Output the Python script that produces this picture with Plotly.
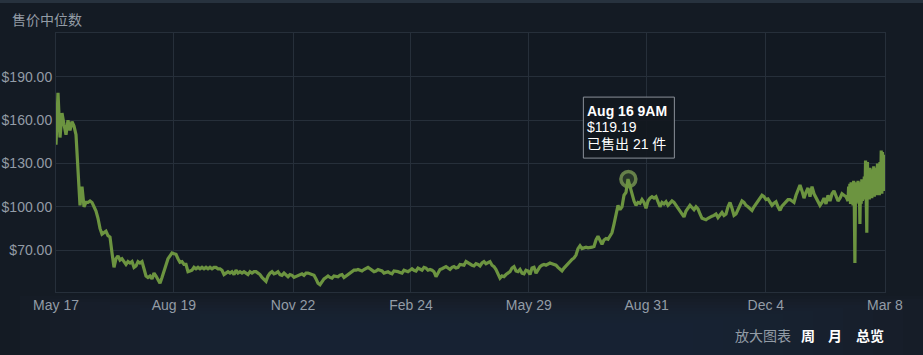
import pandas as pd
import plotly.graph_objects as go

# ---------------- data ----------------
chart_title = "售价中位数"
tick_dates = ["2022-05-17", "2022-08-19", "2022-11-22", "2023-02-24",
              "2023-05-29", "2023-08-31", "2023-12-04", "2024-03-08"]
tick_labels = ["May 17", "Aug 19", "Nov 22", "Feb 24",
               "May 29", "Aug 31", "Dec 4", "Mar 8"]
price_ticks = [70, 100, 130, 160, 190]
price_tick_labels = ["$70.00", "$100.00", "$130.00", "$160.00", "$190.00"]
x_start, x_end = "2022-05-17", "2024-03-08"

daily_start = "2022-05-17"
daily_end = "2024-02-07 12:00"
prices_2022_summer = [
    143, 179, 148, 165, 157, 150, 160, 153, 159, 156,
    150, 124, 101, 114, 100, 103, 103, 104, 103, 100,
    97, 92, 85, 81, 82, 83, 80, 79, 68, 58,
    64, 66, 63, 64, 62, 60, 62, 61, 62, 58,
    59, 62, 61, 62, 57, 52, 51, 52, 50, 54,
    52, 49, 47, 51, 56, 60, 64, 66, 68, 67.5,
    67, 64, 61.5, 62, 60, 60, 55, 55.5, 56, 58,
    57, 58, 57, 58, 57, 58, 57, 58, 57, 58,
    58, 57, 57, 56, 53, 54, 55, 54, 55, 53,
    56, 54, 55, 54, 55, 54, 53, 55, 54, 55,
    55, 54, 53,
]
prices_2022_winter = [
    51, 49.5, 48.3, 52, 54, 55, 53.5, 54, 55, 53,
    52.5, 54, 53, 51.5, 53, 52.5, 51, 51.5, 52, 53,
    53.5, 52.5, 54, 54, 53.5, 53, 52.5, 50, 47, 46,
    48, 50, 51, 52, 51, 50.5, 52, 52, 51.5, 52.5,
    53, 51, 52, 53, 54.5, 55.5, 56, 56, 56.5, 56,
    55.5, 56.5, 57, 58, 57, 56, 55, 55.5, 56.5, 56,
    55.5, 54, 54.5, 55, 54, 53.5, 55.5, 55.5, 55, 54.5,
    54, 56, 55.5, 55, 56, 57, 56, 55.5, 57.5, 57,
    56, 58, 57.5, 56, 56.5, 56, 55, 51.5, 54, 56.5,
    57, 58, 58.5, 57.5, 56.5, 58, 58.5, 57.5, 58, 60,
    59.5, 59.5, 62, 61, 60.5, 59.5,
]
prices_2023_summer = [
    59, 60.5, 60, 59, 61, 62, 60.5, 61, 62, 59.5,
    58.5, 56.5, 54, 50.5, 52, 51.5, 53, 54, 55, 57.5,
    58.5, 55.5, 55, 56.5, 54, 53.5, 56, 55.5, 53, 57.5,
    58, 54, 56.5, 58.5, 59.5, 60, 59.5, 60.5, 61, 60.5,
    60, 59.5, 58, 56.5, 55.5, 57.5, 59, 61, 62.5, 63.5,
    64.5, 66.5, 71, 73, 71, 71.5, 72, 71.5, 71.5, 72,
    72.5, 77, 79.5, 76, 74, 77, 78, 77.5, 79.5, 82,
    88, 96, 101, 98, 100, 108, 110, 119.19, 114, 108,
    104, 101, 103, 102.5, 105, 103, 99, 104, 106, 107,
    106, 107, 103, 100, 103, 102, 103.5, 101, 102.5, 104,
    103, 101, 99, 97.5, 95, 93,
]
prices_2023_winter = [
    97, 99, 101, 99.5, 98, 100, 98.5, 95, 92, 91.5,
    91, 92, 93, 93.5, 94, 95, 92.5, 94, 96, 94,
    95, 100, 103, 99, 94, 95, 98, 102, 104, 103,
    101, 100, 98.5, 97.5, 100, 102, 104, 106, 108, 107,
    105, 105.5, 103, 101, 102.5, 103.5, 100, 97.5, 100.5, 102,
    104, 105, 105, 104, 103, 108, 112, 115, 111, 106,
    110, 113, 107, 114, 109, 106, 104, 101, 103, 106,
    102, 108, 104, 109, 111, 107, 104, 106, 109, 108,
    107, 104,
]

# recent prices (12-hour samples)
recent_start = "2024-02-08 00:00"
recent_prices = [
    114, 104, 116, 102, 117, 103, 115, 101, 118, 104,
    61, 117, 102, 116, 104, 118, 103, 115, 88, 117,
    102, 119, 104, 118, 105, 121, 106, 132, 104, 82,
    131, 106, 125, 105, 127, 107, 124, 106, 126, 108,
    128, 107, 125, 109, 127, 108, 130, 110, 129, 108,
    131, 110, 139, 109, 138, 112, 136, 111, 128,
]

tooltip_time = "2023-08-16 09:00"
tooltip_label = "Aug 16 9AM"
tooltip_price = 119.19
tooltip_sold = 21

bottom_labels = ["放大图表", "周", "月", "总览"]

# ---------------- build ----------------
daily_prices = prices_2022_summer + prices_2022_winter + prices_2023_summer + prices_2023_winter
daily_dates = pd.date_range(daily_start, daily_end, periods=len(daily_prices))
recent_dates = pd.date_range(recent_start, periods=len(recent_prices), freq="12h")
all_dates = list(daily_dates) + list(recent_dates)
all_prices = daily_prices + recent_prices

LINE = "#6c9440"
GRID = "#262f3a"
TXT = "#939ca6"
FONT = "Liberation Sans, Arial, Noto Sans CJK SC, sans-serif"

W, H = 923, 355
ML, MR, MT, MB = 56, 38, 33, 63
PW, PH = W - ML - MR, H - MT - MB

fig = go.Figure()
fig.add_trace(go.Scatter(
    x=[pd.Timestamp(tooltip_time)], y=[tooltip_price], mode="markers",
    marker=dict(size=15, color="rgba(104,143,62,0.25)",
                line=dict(color="rgba(115,145,80,0.85)", width=3.5)),
    hoverinfo="skip"))
fig.add_trace(go.Scatter(
    x=all_dates, y=all_prices, mode="lines",
    line=dict(color=LINE, width=3.2), hoverinfo="skip"))

shapes = []
def py(px):  # pixel row (from top) -> paper y
    return (H - MB - px) / PH
def pxx(px):
    return (px - ML) / PW
# background: soft bluish glow towards the bottom centre
for i in range(10):
    x0 = 20 + i * 30
    shapes.append(dict(type="rect", xref="paper", yref="paper", layer="below",
                       x0=pxx(x0), x1=pxx(923 - x0 + 60), y0=py(355), y1=py(296 + i * 3),
                       fillcolor="#1f2e44", opacity=0.09, line=dict(width=0)))
shapes.append(dict(type="rect", xref="paper", yref="paper", layer="below",
                   x0=pxx(0), x1=pxx(923), y0=py(3), y1=py(0),
                   fillcolor="#27323e", line=dict(width=0)))
# tooltip box anchored to the hovered point
shapes.append(dict(type="rect", xref="x", yref="y",
                   xsizemode="pixel", ysizemode="pixel",
                   xanchor=pd.Timestamp(tooltip_time), yanchor=tooltip_price,
                   x0=-45, x1=46, y0=21, y1=82,
                   fillcolor="rgba(18,24,32,0.92)",
                   line=dict(color="#8a9099", width=1)))

annotations = [
    dict(text=chart_title, xref="paper", yref="paper", x=pxx(10), y=py(19),
         xanchor="left", yanchor="middle", showarrow=False,
         font=dict(size=14, color=TXT, family="Noto Sans CJK SC")),
]
tip_lines = [f"<b>{tooltip_label}</b>", f"${tooltip_price:.2f}", f"已售出 {tooltip_sold} 件"]
for line_txt, dy in zip(tip_lines, [68, 52.5, 35.5]):
    annotations.append(dict(text=line_txt, x=pd.Timestamp(tooltip_time), y=tooltip_price,
                            xref="x", yref="y", xanchor="left", yanchor="middle",
                            xshift=-43, yshift=dy, showarrow=False,
                            font=dict(size=14, color="#ffffff", family=FONT)))
for txt, x0, col, bold in zip(bottom_labels, [733, 799, 826, 854],
                              [TXT, "#ffffff", "#ffffff", "#ffffff"],
                              [False, True, True, True]):
    annotations.append(dict(text=f"<b>{txt}</b>" if bold else txt,
                            xref="paper", yref="paper", x=pxx(x0), y=py(335),
                            xanchor="left", yanchor="middle", showarrow=False,
                            font=dict(size=14, color=col, family="Noto Sans CJK SC")))

fig.update_layout(
    width=W, height=H, margin=dict(l=ML, r=MR, t=MT, b=MB, pad=0, autoexpand=False),
    paper_bgcolor="#141b24", plot_bgcolor="#121922",
    showlegend=False, hovermode=False,
    font=dict(family=FONT, size=14, color=TXT),
    shapes=shapes, annotations=annotations,
    xaxis=dict(type="date", range=[x_start, x_end], automargin=False,
               tickmode="array", tickvals=tick_dates, ticktext=tick_labels,
               showgrid=True, gridcolor=GRID, gridwidth=1,
               showline=True, linecolor=GRID, mirror=True, zeroline=False,
               ticks="", tickfont=dict(size=14, color=TXT), fixedrange=True),
    yaxis=dict(range=[40.9, 220.5], tickmode="array", automargin=False,
               tickvals=price_ticks, ticktext=price_tick_labels,
               showgrid=True, gridcolor=GRID, gridwidth=1,
               showline=True, linecolor=GRID, mirror=True, zeroline=False,
               ticks="", tickfont=dict(size=14, color=TXT), fixedrange=True),
)

fig.write_html("out.html", config={"displayModeBar": False})
